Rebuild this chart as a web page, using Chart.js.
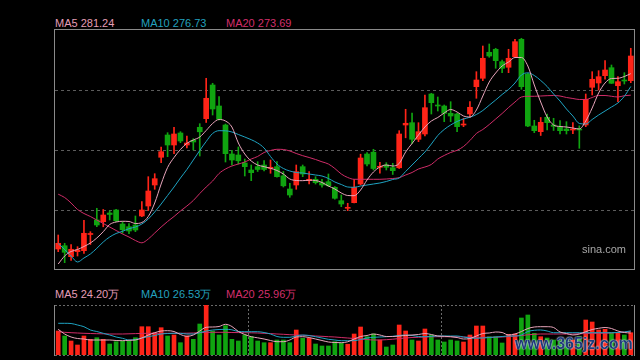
<!DOCTYPE html>
<html><head><meta charset="utf-8">
<script src="https://cdn.jsdelivr.net/npm/chart.js@4.4.1/dist/chart.umd.min.js"></script>
<style>
body{margin:0;background:#000;width:640px;height:360px;overflow:hidden;position:relative;font-family:"Liberation Sans",Arial,sans-serif}
.lbl{position:absolute;font-size:11px;line-height:13px;white-space:nowrap}
</style></head><body>
<div id="l1" class="lbl" style="left:55px;top:17px;color:#e59db6"></div>
<div id="l2" class="lbl" style="left:141px;top:17px;color:#23a0bf"></div>
<div id="l3" class="lbl" style="left:226px;top:17px;color:#d32f6b"></div>
<div style="position:absolute;left:54px;top:29px;width:581px;height:241px"><canvas id="c1" width="581" height="241"></canvas></div>
<div class="lbl" style="left:582px;top:243px;color:#a6a6a6;font-size:11px">sina.com</div>
<div id="v1" class="lbl" style="left:55px;top:288px;color:#e59db6"></div>
<div id="v2" class="lbl" style="left:141px;top:288px;color:#23a0bf"></div>
<div id="v3" class="lbl" style="left:226px;top:288px;color:#d32f6b"></div>
<div style="position:absolute;left:54px;top:304px;width:581px;height:56px"><canvas id="c2" width="581" height="56"></canvas></div>
<div class="lbl" style="left:515px;top:335px;font-size:16px;line-height:18px;font-weight:bold;color:#1f3b7a;text-shadow:0 0 2px #dfe8f5,0 0 1px #dfe8f5">www.365jz.com</div>
<script>
const open = [219.85,221.0,217.16,218.91,219.26,224.93,230.0,229.41,232.45,233.5,
228.6,227.66,228.25,231.4,234.9,242.25,251.95,259.75,256.25,260.45,
256.25,257.9,262.45,265.46,277.25,269.9,263.25,253.1,252.75,249.95,
247.5,248.66,249.25,248.1,248.66,245.47,240.85,242.25,248.66,243.76,
244.25,243.06,243.41,241.45,236.76,234.1,236.06,242.6,253.1,253.73,
248.45,249.25,248.31,248.27,263.25,264.06,258.25,260.1,274.1,270.25,
269.9,267.35,267.1,263.25,267.1,276.66,279.6,288.7,289.75,285.41,
283.45,287.16,293.25,281.1,262.9,260.91,265.95,263.25,262.66,261.85,
261.5,261.75,263.25,276.45,277.95,280.51,283.31,277.0,279.0,278.76];
const high = [224.75,221.85,221.43,220.66,229.9,225.91,234.1,233.68,233.22,233.75,
229.41,228.71,231.4,236.41,245.16,246.21,255.55,260.56,262.45,260.91,
259.4,258.46,263.71,279.6,277.85,273.16,263.6,254.4,255.55,251.35,
249.25,250.41,250.83,251.0,250.41,246.98,242.85,249.25,249.25,246.91,
245.16,244.25,246.1,241.66,238.75,235.85,244.18,253.03,253.56,254.75,
250.2,250.06,249.85,261.26,268.75,267.45,264.06,273.75,274.35,273.05,
270.25,271.41,267.35,265.6,271.41,281.91,290.9,291.6,290.1,286.0,
289.75,293.25,293.6,281.35,264.9,265.88,267.1,265.6,264.76,264.41,
264.06,262.97,274.1,281.91,282.26,285.76,284.25,280.16,281.56,290.1];
const low = [218.91,215.06,215.83,217.4,218.28,221.43,227.66,227.62,230.0,229.41,
225.35,225.21,225.91,231.16,233.33,240.75,250.06,252.16,253.21,257.06,
255.2,254.5,252.4,264.13,266.75,265.0,250.3,249.25,249.6,245.4,
243.76,246.98,247.15,246.35,244.95,241.55,237.95,240.75,245.16,242.6,
242.6,241.45,241.66,237.25,234.66,233.26,235.95,242.25,248.9,247.5,
246.35,247.5,245.93,248.03,258.77,256.71,257.41,259.4,267.1,268.15,
264.41,264.41,260.91,262.66,265.95,272.6,278.76,286.95,283.1,281.56,
281.56,286.95,275.75,262.66,260.56,259.58,261.5,261.33,260.1,260.1,
260.2,255.1,262.66,273.75,275.5,279.25,277.78,271.41,277.6,278.06];
const close = [221.85,218.70,219.75,219.5,225.35,225.28,228.25,231.75,231.93,229.72,
226.61,226.15,226.5,233.5,240.15,244.46,253.91,256.25,260.1,257.65,
256.95,257.3,260.87,272.6,268.85,265.25,253.21,251.0,250.72,248.66,
246.56,247.68,247.68,248.45,245.16,241.97,238.75,246.91,246.1,244.25,
243.06,242.25,242.0,237.6,235.6,234.45,241.38,251.7,249.6,248.03,
248.73,248.45,247.26,260.1,263.85,258.25,260.91,269.31,271.06,269.9,
267.35,266.4,262.66,263.6,269.45,279.0,286.6,287.4,285.76,283.1,
286.6,292.41,276.66,262.9,261.26,264.2,264.06,262.8,261.26,261.26,
261.75,261.5,272.25,279.25,280.16,282.5,277.85,278.41,278.65,287.4];
const ma5 = [214.6,217.4,218.98,219.68,220.73,221.95,223.7,225.91,228.43,229.3,
229.55,229.48,228.78,229.13,231.23,235.95,242.6,248.38,251.88,254.68,
256.85,258.0,259.05,261.33,263.78,265.18,264.65,262.55,256.95,253.1,
250.65,249.25,248.66,248.1,247.33,246.1,244.35,243.83,243.76,243.93,
243.83,243.13,241.9,240.85,239.45,238.58,238.51,240.5,244.0,246.8,
248.55,249.25,248.9,249.78,253.8,256.78,259.75,262.55,264.65,265.88,
267.45,268.68,267.8,266.4,266.05,268.5,273.4,278.3,281.45,283.9,
285.3,286.88,286.88,283.9,277.25,271.3,266.05,263.25,262.73,262.55,
262.2,261.85,264.65,269.2,274.45,277.95,279.53,279.6,280.23,281.24];
const ma10 = [221.78,219.68,217.4,215.3,216.7,218.1,220.1,222.3,224.05,225.28,
226.05,226.96,227.55,228.6,230.35,232.8,235.6,238.58,241.55,244.7,
247.68,251.0,254.33,257.48,260.28,261.26,261.22,260.8,259.93,259.05,
258.11,256.95,255.2,252.23,249.6,248.03,247.15,246.63,246.45,246.1,
245.75,245.4,244.53,243.3,242.43,241.55,241.45,241.9,242.25,242.6,
242.95,243.48,244.18,244.7,246.98,249.25,251.53,253.8,256.6,259.58,
261.68,263.25,264.48,265.35,265.98,266.93,268.33,270.18,272.0,273.93,
275.68,277.95,280.75,281.52,280.58,278.83,276.73,274.1,271.65,268.85,
266.4,263.78,263.6,265.18,266.75,268.15,269.55,270.95,273.3,276.73];
const ma20 = [239.03,237.88,235.95,233.68,232.28,231.23,230.0,228.78,227.55,226.33,
225.1,224.05,222.83,222.02,223.35,225.45,227.55,229.48,231.23,233.15,
234.9,236.83,239.28,241.55,243.65,246.28,247.85,248.9,249.6,250.3,
251.35,252.23,253.63,254.33,254.75,254.68,254.15,253.28,252.51,251.88,
251.18,250.37,249.6,248.03,246.1,244.88,244.25,244.25,244.25,244.25,
244.25,244.35,244.53,244.81,245.75,246.63,247.85,248.55,249.43,251.35,
252.58,253.63,254.4,255.73,257.83,260.28,261.68,263.43,265.35,267.28,
269.38,271.3,273.05,273.3,273.3,273.4,273.51,273.58,273.4,272.88,
272.53,272.18,272.18,272.88,273.58,273.58,273.3,273.05,273.5,273.69];
const volume = [26.4,20.9,15.4,11.0,20.9,17.27,19.03,17.27,12.1,14.63,
15.4,15.4,19.03,31.13,31.13,24.53,30.03,20.9,22.0,13.53,
20.9,17.27,34.1,55.0,26.4,22.0,32.23,17.27,15.4,22.0,
20.13,15.4,13.53,13.53,16.5,16.5,13.53,27.5,18.37,18.37,
12.1,9.9,9.9,14.63,12.87,11.88,23.1,30.8,20.13,23.1,
16.5,8.8,11.0,33.0,26.4,16.5,15.4,28.6,22.0,16.5,
14.3,16.5,15.4,14.3,22.0,31.9,31.9,20.13,20.13,13.2,
22.77,23.1,40.7,44.0,23.87,20.13,18.7,16.5,15.73,16.5,
16.5,20.13,38.5,36.3,27.5,28.27,24.53,23.87,22.0,24.53];
const vma5 = [28.27,23.1,19.8,18.15,17.6,16.5,16.5,16.5,16.5,15.95,
15.73,16.17,16.5,18.7,22.0,24.53,26.4,26.73,25.85,22.55,
20.57,22.0,26.4,30.47,30.8,31.35,33.77,31.35,25.85,22.55,
20.13,18.92,17.6,15.95,14.63,14.63,16.5,19.8,20.13,19.25,
17.6,15.95,14.3,13.75,13.53,14.52,17.6,20.35,21.45,23.1,
22.0,20.35,20.35,20.9,21.45,22.0,22.55,23.65,22.55,20.9,
20.57,20.13,19.25,17.6,18.15,20.9,23.65,24.2,25.3,24.75,
22.0,23.1,25.85,29.15,30.8,31.13,31.13,30.25,25.3,23.65,
22.0,23.1,25.63,28.05,29.37,30.25,29.15,26.4,24.75,24.2];
const vma10 = [34.87,34.87,34.65,33.0,31.13,27.5,25.85,23.87,22.0,19.8,
18.37,16.5,17.05,18.7,20.13,21.45,23.1,23.65,23.87,23.87,
23.1,23.1,24.53,26.4,27.5,28.05,28.27,27.72,25.85,25.63,
25.63,25.63,24.75,23.1,20.35,19.47,19.47,20.9,22.0,21.45,
20.13,18.7,17.27,16.5,15.73,15.73,15.73,17.05,18.7,19.47,
19.8,20.13,20.57,21.45,22.0,21.45,20.35,20.13,20.57,20.9,
20.9,20.9,20.9,19.8,18.7,18.37,18.7,19.25,19.8,20.35,
20.9,20.9,22.0,25.85,27.17,27.5,26.4,24.53,24.53,24.53,
24.53,24.53,24.53,24.53,24.53,24.53,24.53,24.75,25.3,26.53];
const vma20 = [25.63,24.97,24.53,24.2,23.87,23.65,23.43,23.32,23.1,23.1,
23.1,23.32,23.54,23.76,23.87,23.87,23.87,23.87,23.87,23.87,
23.98,24.2,24.53,24.86,24.97,24.97,24.97,24.75,24.64,24.53,
24.42,24.2,23.87,23.54,23.1,22.77,22.33,22.0,21.67,21.23,
20.9,20.57,20.13,19.8,19.25,18.7,18.15,17.6,17.05,16.5,
16.5,16.83,17.38,18.15,18.7,19.25,19.47,19.8,20.02,20.13,
20.13,20.13,20.02,19.8,19.58,19.47,19.47,19.47,19.58,19.8,
20.35,20.9,21.45,22.22,22.77,23.1,23.1,23.1,23.1,23.1,
23.1,23.32,23.65,23.87,23.87,23.98,24.2,24.75,25.3,25.96];
const priceGrid = [233.5, 254.5, 275.5];
const priceRange = [212.85, 296.5];
const volumeRange = [0, 55];
const sessionBreaks = [30, 60];
const categories = open.map((_, i) => String(i + 1));

const UP = '#ff2418', DOWN = '#10a410';
const C5 = '#e8a5bb', C10 = '#1ea3c2', C20 = '#d02c68';
const dirColors = open.map((o, i) => close[i] >= o ? UP : DOWN);
const last = a => a[a.length - 1];

document.getElementById('l1').textContent = 'MA5 ' + last(ma5).toFixed(2);
document.getElementById('l2').textContent = 'MA10 ' + last(ma10).toFixed(2);
document.getElementById('l3').textContent = 'MA20 ' + last(ma20).toFixed(2);
document.getElementById('v1').textContent = 'MA5 ' + last(vma5).toFixed(2) + '万';
document.getElementById('v2').textContent = 'MA10 ' + last(vma10).toFixed(2) + '万';
document.getElementById('v3').textContent = 'MA20 ' + last(vma20).toFixed(2) + '万';

function lineDs(data, color) {
  return { type: 'line', data, borderColor: color, borderWidth: 1, pointRadius: 0,
    cubicInterpolationMode: 'monotone', fill: false, order: 0 };
}

const frame1 = {
  id: 'frame1',
  beforeDatasetsDraw(chart) {
    const { ctx, chartArea: a, scales: { y } } = chart;
    ctx.save(); ctx.strokeStyle = '#5c5c5c'; ctx.lineWidth = 1; ctx.setLineDash([3, 3]);
    priceGrid.forEach(v => { const py = Math.round(y.getPixelForValue(v)) + 0.5;
      ctx.beginPath(); ctx.moveTo(a.left, py); ctx.lineTo(a.right, py); ctx.stroke(); });
    ctx.restore();
  },
  afterDraw(chart) {
    const ctx = chart.ctx; ctx.save(); ctx.strokeStyle = '#8a8a8a'; ctx.lineWidth = 1;
    ctx.strokeRect(0.5, 0.5, chart.width - 1, chart.height - 6 + 5); ctx.restore();
  }
};

const frame2 = {
  id: 'frame2',
  beforeDatasetsDraw(chart) {
    const { ctx, chartArea: a, scales: { x } } = chart;
    ctx.save(); ctx.strokeStyle = '#6a6a6a'; ctx.lineWidth = 1; ctx.setLineDash([2, 2]);
    sessionBreaks.forEach(i => { const px = Math.round((x.getPixelForValue(i - 1) + x.getPixelForValue(i)) / 2) + 0.5;
      ctx.beginPath(); ctx.moveTo(px, a.top); ctx.lineTo(px, a.bottom); ctx.stroke(); });
    [a.top, a.bottom].forEach(yy => { const py = Math.round(yy) + 0.5;
      ctx.beginPath(); ctx.moveTo(a.left, py); ctx.lineTo(a.right, py); ctx.stroke(); });
    ctx.setLineDash([]); ctx.strokeStyle = '#8a8a8a';
    [0.5, chart.width - 0.5].forEach(px => { ctx.beginPath(); ctx.moveTo(px, a.top); ctx.lineTo(px, a.bottom + 1); ctx.stroke(); });
    ctx.restore();
  }
};

const hiddenX = { type: 'category', display: false, offset: true, grid: { display: false } };

new Chart(document.getElementById('c1'), {
  type: 'bar',
  data: {
    labels: categories,
    datasets: [
      lineDs(ma5, C5), lineDs(ma10, C10), lineDs(ma20, C20),
      { type: 'bar', data: open.map((o, i) => [o, close[i]]), backgroundColor: dirColors,
        barThickness: 5, grouped: false, minBarLength: 1, order: 1, borderWidth: 0 },
      { type: 'bar', data: low.map((l, i) => [l, high[i]]), backgroundColor: dirColors,
        barThickness: 1, grouped: false, minBarLength: 1, order: 2, borderWidth: 0 }
    ]
  },
  options: {
    responsive: false, devicePixelRatio: 1, animation: false,
    layout: { padding: { left: 1, top: 1, right: 1, bottom: 1 } },
    plugins: { legend: { display: false }, tooltip: { enabled: false } },
    scales: { x: hiddenX, y: { display: false, min: priceRange[0], max: priceRange[1] } }
  },
  plugins: [frame1]
});

new Chart(document.getElementById('c2'), {
  type: 'bar',
  data: {
    labels: categories,
    datasets: [
      lineDs(vma5, C5), lineDs(vma10, C10), lineDs(vma20, C20),
      { type: 'bar', data: volume, backgroundColor: dirColors, barThickness: 4,
        grouped: false, order: 1, borderWidth: 0 }
    ]
  },
  options: {
    responsive: false, devicePixelRatio: 1, animation: false,
    layout: { padding: { left: 1, top: 1, right: 1, bottom: 5 } },
    plugins: { legend: { display: false }, tooltip: { enabled: false } },
    scales: { x: hiddenX, y: { display: false, min: volumeRange[0], max: volumeRange[1] } }
  },
  plugins: [frame2]
});
</script>
</body></html>
